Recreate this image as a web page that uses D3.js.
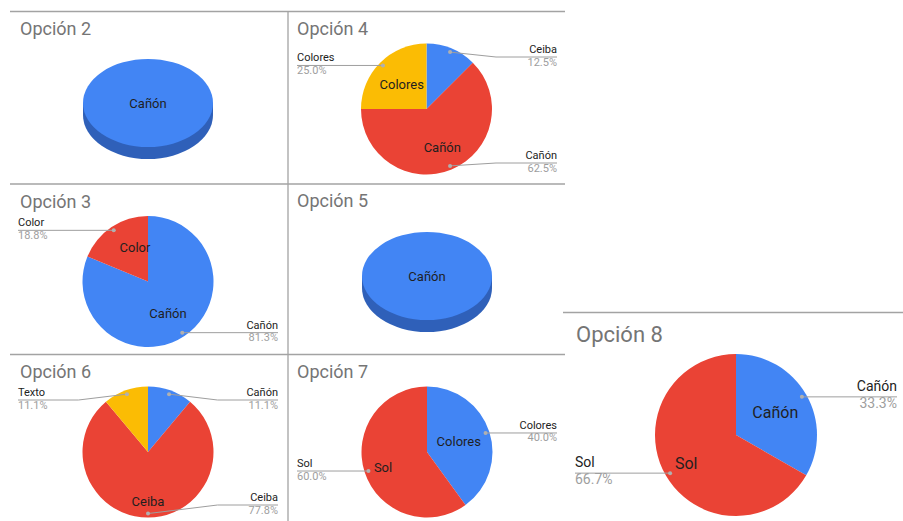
<!DOCTYPE html>
<html>
<head>
<meta charset="utf-8">
<script src="https://cdn.jsdelivr.net/npm/d3@7"></script>
<style>
  body { margin: 0; background: #fff; }
  text { font-family: Roboto, Arial, sans-serif; }
</style>
</head>
<body>
<div id="chart"></div>
<script>
// values as shown in each pie (percent of answers)
var op2Labels = ["Cañón"],                   op2Values = [100];
var op4Labels = ["Ceiba", "Cañón", "Colores"], op4Values = [12.5, 62.5, 25.0];
var op3Labels = ["Cañón", "Color"],          op3Values = [81.3, 18.8];
var op5Labels = ["Cañón"],                   op5Values = [100];
var op6Labels = ["Cañón", "Ceiba", "Texto"], op6Values = [11.1, 77.8, 11.1];
var op7Labels = ["Colores", "Sol"],          op7Values = [40.0, 60.0];
var op8Labels = ["Cañón", "Sol"],            op8Values = [33.3, 66.7];

var sliceColors = ["#4285f4", "#ea4335", "#fbbc04"];
var sideColor = "#2f60b9";

var width = 903, height = 521;

var svg = d3.select("#chart")
  .append("svg")
    .attr("width", width)
    .attr("height", height);

// panel borders of the screenshot
var borders = [
  [10, 11.5, 565, 11.5],
  [10, 184, 565, 184],
  [10, 354.5, 565, 354.5],
  [288, 11, 288, 521],
  [563, 312.5, 903, 312.5]
];
svg.selectAll("line.border")
  .data(borders)
  .enter()
  .append("line")
    .attr("class", "border")
    .attr("x1", function(d) { return d[0]; })
    .attr("y1", function(d) { return d[1]; })
    .attr("x2", function(d) { return d[2]; })
    .attr("y2", function(d) { return d[3]; })
    .attr("stroke", "#a3a3a3")
    .attr("stroke-width", 1.3);

// layout of every small chart; inner = [radius factor, angle shift in deg] for in-slice label
var charts = [
  {title: "Opción 2", labels: op2Labels, values: op2Values, tx: 20, ty: 35,
   cx: 148, cy: 103, r: 65, ry: 44, depth: 12, inner: [[0, 0]]},
  {title: "Opción 5", labels: op5Labels, values: op5Values, tx: 297, ty: 207,
   cx: 427, cy: 276, r: 65, ry: 44, depth: 12, inner: [[0, 0]]},
  {title: "Opción 4", labels: op4Labels, values: op4Values, tx: 297, ty: 35,
   cx: 426.5, cy: 109, r: 65.5, left: 297, right: 557, lineMin: 57, lineMax: 163,
   inner: [null, [0.63, 0], [0.535, 0]]},
  {title: "Opción 3", labels: op3Labels, values: op3Values, tx: 20, ty: 208,
   cx: 148, cy: 281.5, r: 65.5, left: 18, right: 278,
   inner: [[0.58, 2], [0.56, 13]]},
  {title: "Opción 6", labels: op6Labels, values: op6Values, tx: 20, ty: 378,
   cx: 148, cy: 452, r: 65.5, left: 18, right: 278, lineMin: 400, lineMax: 505,
   inner: [null, [0.76, 0], null]},
  {title: "Opción 7", labels: op7Labels, values: op7Values, tx: 297, ty: 378,
   cx: 427, cy: 452, r: 65.5, left: 297, right: 557,
   inner: [[0.51, 0], [0.71, -1]]},
  {title: "Opción 8", labels: op8Labels, values: op8Values, tx: 576, ty: 342,
   cx: 736, cy: 435, r: 81, left: 575, right: 897, big: true,
   inner: [[0.56, 0], [0.71, 0]]}
];

var pie = d3.pie().sort(null).value(function(d) { return d; });

charts.forEach(function(c) {
  var titleSize = c.big ? 22 : 18,
      labelSize = c.big ? 14 : 11,
      sliceSize = c.big ? 16 : 13;

  var g = svg.append("g");

  g.append("text")
    .attr("x", c.tx)
    .attr("y", c.ty)
    .attr("fill", "#757575")
    .style("font-size", titleSize + "px")
    .text(c.title);

  var arcs = pie(c.values);
  var arc = d3.arc().innerRadius(0).outerRadius(c.r);
  var k = c.ry ? c.ry / c.r : 1;

  var pg = g.append("g")
    .attr("transform", "translate(" + c.cx + "," + c.cy + ") scale(1," + k + ")");

  if (c.ry) {
    // 3d side of the disc
    pg.append("circle")
      .attr("cx", 0)
      .attr("cy", c.depth / k)
      .attr("r", c.r)
      .attr("fill", sideColor);
    pg.append("rect")
      .attr("x", -c.r)
      .attr("y", 0)
      .attr("width", 2 * c.r)
      .attr("height", c.depth / k)
      .attr("fill", sideColor);
  }

  pg.selectAll("path.slice")
    .data(arcs)
    .enter()
    .append("path")
      .attr("class", "slice")
      .attr("d", arc)
      .attr("fill", function(d, i) { return sliceColors[i]; });

  // labels inside slices
  arcs.forEach(function(d, i) {
    var pos = c.inner[i];
    if (!pos) return;
    var a = (d.startAngle + d.endAngle) / 2 + pos[1] * Math.PI / 180,
        R = pos[0] * c.r;
    g.append("text")
      .attr("x", c.cx + R * Math.sin(a))
      .attr("y", c.cy - R * Math.cos(a) * k)
      .attr("dy", "0.35em")
      .attr("text-anchor", "middle")
      .attr("fill", "#1f1f1f")
      .style("font-size", sliceSize + "px")
      .text(c.labels[i]);
  });

  if (c.ry) return;

  // outside labels with leader lines
  var gap = c.big ? 6 : 4,
      pctGap = c.big ? 11 : 8.5;
  arcs.forEach(function(d, i) {
    var a = (d.startAngle + d.endAngle) / 2,
        dx = c.cx + 0.94 * c.r * Math.sin(a),
        dy = c.cy - 0.94 * c.r * Math.cos(a),
        onRight = a <= Math.PI + 0.01,
        ly = dy;
    if (c.lineMin != null) ly = Math.max(ly, c.lineMin);
    if (c.lineMax != null) ly = Math.min(ly, c.lineMax);

    var pts = [[dx, dy]];
    if (Math.abs(ly - dy) > 0.5) {
      pts.push([c.cx + (onRight ? 1 : -1) * (c.r + 4), ly]);
    }
    pts.push([onRight ? c.right : c.left, ly]);

    g.append("path")
      .attr("d", d3.line()(pts))
      .attr("fill", "none")
      .attr("stroke", "#9e9e9e")
      .attr("stroke-width", 1);

    g.append("circle")
      .attr("cx", dx)
      .attr("cy", dy)
      .attr("r", 2)
      .attr("fill", "#b0b0b0");

    var tx = onRight ? c.right : c.left,
        anchor = onRight ? "end" : "start";

    g.append("text")
      .attr("x", tx)
      .attr("y", ly - gap)
      .attr("text-anchor", anchor)
      .attr("fill", "#222")
      .style("font-size", labelSize + "px")
      .text(c.labels[i]);

    g.append("text")
      .attr("x", tx)
      .attr("y", ly + pctGap)
      .attr("text-anchor", anchor)
      .attr("fill", "#9e9e9e")
      .style("font-size", labelSize + "px")
      .text(c.values[i].toFixed(1) + "%");
  });
});
</script>
</body>
</html>
